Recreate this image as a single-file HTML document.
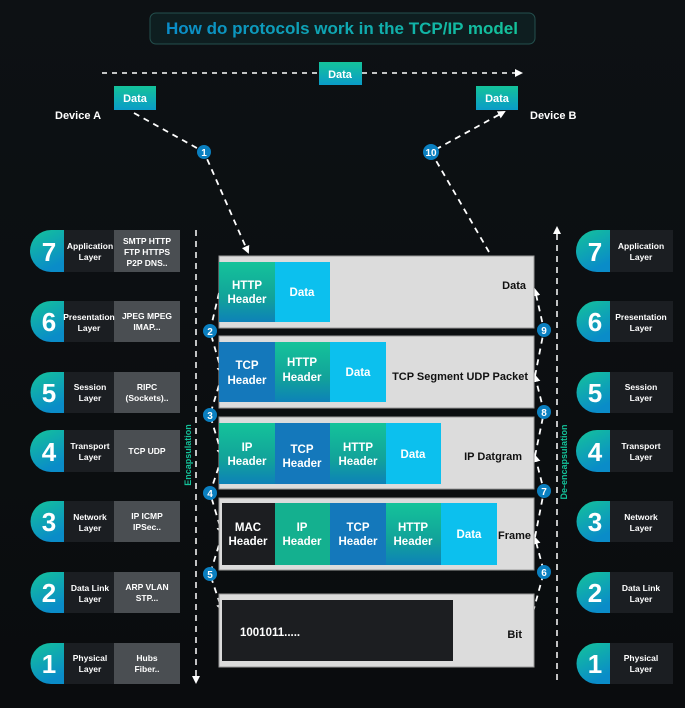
<!DOCTYPE html>
<html><head><meta charset="utf-8"><style>
html,body{margin:0;padding:0;background:#0b0d0f;}
svg{display:block;font-family:"Liberation Sans",sans-serif;font-weight:bold;}
</style></head><body>
<svg width="685" height="708" viewBox="0 0 685 708" xmlns="http://www.w3.org/2000/svg">
<defs>
<linearGradient id="bg" x1="0" y1="0" x2="0" y2="1"><stop offset="0" stop-color="#0d1114"/><stop offset="1" stop-color="#0a0c0e"/></linearGradient>
<linearGradient id="badge" x1="0" y1="0" x2="0.4" y2="1"><stop offset="0" stop-color="#14c39a"/><stop offset="1" stop-color="#0a8cc8"/></linearGradient>
<linearGradient id="grn" x1="0" y1="0" x2="0" y2="1"><stop offset="0" stop-color="#14c39a"/><stop offset="0.6" stop-color="#12a29a"/><stop offset="1" stop-color="#0d82b8"/></linearGradient>
<linearGradient id="dbox" x1="0" y1="0" x2="0" y2="1"><stop offset="0" stop-color="#14c39a"/><stop offset="1" stop-color="#0a9cc8"/></linearGradient>
<linearGradient id="ttl" x1="0" y1="0" x2="1" y2="0"><stop offset="0" stop-color="#0a8cc8"/><stop offset="1" stop-color="#14c39a"/></linearGradient>
<marker id="ar" markerWidth="8" markerHeight="8" refX="6" refY="4" orient="auto" markerUnits="userSpaceOnUse"><path d="M0,0 L8,4 L0,8 z" fill="#fff"/></marker>
</defs>
<rect width="685" height="708" fill="url(#bg)"/>

<rect x="150" y="13" width="385" height="31" rx="6" fill="#0e1e20" stroke="#24504e" stroke-width="1"/>
<text x="342" y="34" text-anchor="middle" font-size="17" fill="url(#ttl)">How do protocols work in the TCP/IP model</text>

<line x1="102" y1="73" x2="521" y2="73" stroke="#fff" stroke-width="1.5" stroke-dasharray="5,5" marker-end="url(#ar)"/>
<rect x="319" y="62" width="43" height="23" fill="url(#dbox)"/>
<text x="340" y="78" text-anchor="middle" font-size="11" fill="#fff">Data</text>
<rect x="114" y="86" width="42" height="24" fill="url(#dbox)"/>
<text x="135" y="102" text-anchor="middle" font-size="11" fill="#fff">Data</text>
<rect x="476" y="86" width="42" height="24" fill="url(#dbox)"/>
<text x="497" y="102" text-anchor="middle" font-size="11" fill="#fff">Data</text>
<text x="55" y="119" font-size="11" fill="#fff">Device A</text>
<text x="530" y="119" font-size="11" fill="#fff">Device B</text>

<g stroke="#fff" stroke-width="1.8" stroke-dasharray="6,5" fill="none">
<path d="M134,113 L204,152 L248,252" marker-end="url(#ar)"/>
<path d="M489,252 L431,152 L504,112" marker-end="url(#ar)"/>
<path d="M219,293 L210,331 L222,373" marker-end="url(#ar)"/>
<path d="M222,375 L210,415 L222,455" marker-end="url(#ar)"/>
<path d="M222,457 L210,493 L222,533" marker-end="url(#ar)"/>
<path d="M222,535 L210,574 L222,610" marker-end="url(#ar)"/>
<path d="M533,612 L544,572 L535,538" marker-end="url(#ar)"/>
<path d="M535,537 L544,491 L535,456" marker-end="url(#ar)"/>
<path d="M535,456 L544,412 L535,376" marker-end="url(#ar)"/>
<path d="M535,376 L544,330 L535,290" marker-end="url(#ar)"/>
</g>
<g stroke="#fff" stroke-width="1.5" stroke-dasharray="6,5" fill="none">
<line x1="196" y1="230" x2="196" y2="682" marker-end="url(#ar)"/>
<line x1="557" y1="680" x2="557" y2="228" marker-end="url(#ar)"/>
</g>
<text transform="translate(191,455) rotate(-90)" text-anchor="middle" font-size="9" fill="#14c39a">Encapsulation</text>
<text transform="translate(567,462) rotate(-90)" text-anchor="middle" font-size="9" fill="#14c39a">De-encapsulation</text>

<g font-size="10" fill="#fff" text-anchor="middle">
<circle cx="204" cy="152" r="7" fill="#0a7fc0"/><text x="204" y="156">1</text>
<circle cx="431" cy="152" r="8" fill="#0a7fc0"/><text x="431" y="156">10</text>
<circle cx="210" cy="331" r="7" fill="#0a7fc0"/><text x="210" y="335">2</text>
<circle cx="210" cy="415" r="7" fill="#0a7fc0"/><text x="210" y="419">3</text>
<circle cx="210" cy="493" r="7" fill="#0a7fc0"/><text x="210" y="497">4</text>
<circle cx="210" cy="574" r="7" fill="#0a7fc0"/><text x="210" y="578">5</text>
<circle cx="544" cy="330" r="7" fill="#0a7fc0"/><text x="544" y="334">9</text>
<circle cx="544" cy="412" r="7" fill="#0a7fc0"/><text x="544" y="416">8</text>
<circle cx="544" cy="491" r="7" fill="#0a7fc0"/><text x="544" y="495">7</text>
<circle cx="544" cy="572" r="7" fill="#0a7fc0"/><text x="544" y="576">6</text>
</g>

<g stroke="#9a9a9a" stroke-width="1">
<rect x="219" y="256" width="315" height="72" fill="#dcdcdc"/>
<rect x="219" y="336" width="315" height="72" fill="#dcdcdc"/>
<rect x="219" y="417" width="315" height="72" fill="#dcdcdc"/>
<rect x="219" y="498" width="315" height="72" fill="#dcdcdc"/>
<rect x="219" y="594" width="315" height="73" fill="#dcdcdc"/>
</g>
<rect x="219" y="262" width="56" height="60" fill="url(#grn)"/>
<rect x="275" y="262" width="55" height="60" fill="#0cc0ee"/>
<rect x="219" y="342" width="56" height="60" fill="#1478bb"/>
<rect x="275" y="342" width="55" height="60" fill="url(#grn)"/>
<rect x="330" y="342" width="56" height="60" fill="#0cc0ee"/>
<rect x="219" y="423" width="56" height="61" fill="url(#grn)"/>
<rect x="275" y="423" width="55" height="61" fill="#1478bb"/>
<rect x="330" y="423" width="56" height="61" fill="url(#grn)"/>
<rect x="386" y="423" width="55" height="61" fill="#0cc0ee"/>
<rect x="222" y="503" width="53" height="62" fill="#1c1e21"/>
<rect x="275" y="503" width="55" height="62" fill="#14b08f"/>
<rect x="330" y="503" width="56" height="62" fill="#1478bb"/>
<rect x="386" y="503" width="55" height="62" fill="url(#grn)"/>
<rect x="441" y="503" width="56" height="62" fill="#0cc0ee"/>
<rect x="222" y="600" width="231" height="61" fill="#1c1e21"/>

<g font-size="11.5" fill="#fff" text-anchor="middle">
<text x="247" y="289">HTTP</text><text x="247" y="303">Header</text>
<text x="302" y="296">Data</text>
<text x="247" y="369">TCP</text><text x="247" y="384">Header</text>
<text x="302" y="366">HTTP</text><text x="302" y="381">Header</text>
<text x="358" y="376">Data</text>
<text x="247" y="451">IP</text><text x="247" y="465">Header</text>
<text x="302" y="453">TCP</text><text x="302" y="467">Header</text>
<text x="358" y="451">HTTP</text><text x="358" y="465">Header</text>
<text x="413" y="458">Data</text>
<text x="248" y="531">MAC</text><text x="248" y="545">Header</text>
<text x="302" y="531">IP</text><text x="302" y="545">Header</text>
<text x="358" y="531">TCP</text><text x="358" y="545">Header</text>
<text x="413" y="531">HTTP</text><text x="413" y="545">Header</text>
<text x="469" y="538">Data</text>
</g>
<text x="240" y="636" font-size="11.5" fill="#fff">1001011.....</text>
<g font-size="11" fill="#111" text-anchor="end">
<text x="526" y="289">Data</text>
<text x="528" y="380">TCP Segment UDP Packet</text>
<text x="522" y="460">IP Datgram</text>
<text x="531" y="539">Frame</text>
<text x="522" y="638">Bit</text>
</g>

<g font-size="8.5" fill="#fff" text-anchor="middle">
<path d="M64,230 H51 A21,21 0 1 0 51,272 H64 Z" fill="url(#badge)"/><rect x="64" y="230" width="50" height="42" fill="#1b1e22"/><rect x="114" y="230" width="66" height="42" fill="#4a4e52"/>
<path d="M64,301 H51 A20.5,20.5 0 1 0 51,342 H64 Z" fill="url(#badge)"/><rect x="64" y="301" width="50" height="41" fill="#1b1e22"/><rect x="114" y="301" width="66" height="41" fill="#4a4e52"/>
<path d="M64,372 H51 A20.5,20.5 0 1 0 51,413 H64 Z" fill="url(#badge)"/><rect x="64" y="372" width="50" height="41" fill="#1b1e22"/><rect x="114" y="372" width="66" height="41" fill="#4a4e52"/>
<path d="M64,430 H51 A21,21 0 1 0 51,472 H64 Z" fill="url(#badge)"/><rect x="64" y="430" width="50" height="42" fill="#1b1e22"/><rect x="114" y="430" width="66" height="42" fill="#4a4e52"/>
<path d="M64,501 H51 A20.5,20.5 0 1 0 51,542 H64 Z" fill="url(#badge)"/><rect x="64" y="501" width="50" height="41" fill="#1b1e22"/><rect x="114" y="501" width="66" height="41" fill="#4a4e52"/>
<path d="M64,572 H51 A20.5,20.5 0 1 0 51,613 H64 Z" fill="url(#badge)"/><rect x="64" y="572" width="50" height="41" fill="#1b1e22"/><rect x="114" y="572" width="66" height="41" fill="#4a4e52"/>
<path d="M64,643 H51 A20.5,20.5 0 1 0 51,684 H64 Z" fill="url(#badge)"/><rect x="64" y="643" width="50" height="41" fill="#1b1e22"/><rect x="114" y="643" width="66" height="41" fill="#4a4e52"/>

<path d="M610,230 H597 A21,21 0 1 0 597,272 H610 Z" fill="url(#badge)"/><rect x="610" y="230" width="63" height="42" fill="#1b1e22"/>
<path d="M610,301 H597 A20.5,20.5 0 1 0 597,342 H610 Z" fill="url(#badge)"/><rect x="610" y="301" width="63" height="41" fill="#1b1e22"/>
<path d="M610,372 H597 A20.5,20.5 0 1 0 597,413 H610 Z" fill="url(#badge)"/><rect x="610" y="372" width="63" height="41" fill="#1b1e22"/>
<path d="M610,430 H597 A21,21 0 1 0 597,472 H610 Z" fill="url(#badge)"/><rect x="610" y="430" width="63" height="42" fill="#1b1e22"/>
<path d="M610,501 H597 A20.5,20.5 0 1 0 597,542 H610 Z" fill="url(#badge)"/><rect x="610" y="501" width="63" height="41" fill="#1b1e22"/>
<path d="M610,572 H597 A20.5,20.5 0 1 0 597,613 H610 Z" fill="url(#badge)"/><rect x="610" y="572" width="63" height="41" fill="#1b1e22"/>
<path d="M610,643 H597 A20.5,20.5 0 1 0 597,684 H610 Z" fill="url(#badge)"/><rect x="610" y="643" width="63" height="41" fill="#1b1e22"/>

<g font-size="26">
<text x="49" y="261">7</text><text x="49" y="331">6</text><text x="49" y="402">5</text><text x="49" y="461">4</text><text x="49" y="531">3</text><text x="49" y="602">2</text><text x="49" y="673">1</text>
<text x="595" y="261">7</text><text x="595" y="331">6</text><text x="595" y="402">5</text><text x="595" y="461">4</text><text x="595" y="531">3</text><text x="595" y="602">2</text><text x="595" y="673">1</text>
</g>
<text x="90" y="249">Application</text><text x="90" y="260">Layer</text>
<text x="89" y="320">Presentation</text><text x="89" y="331">Layer</text>
<text x="90" y="390">Session</text><text x="90" y="401">Layer</text>
<text x="90" y="449">Transport</text><text x="90" y="460">Layer</text>
<text x="90" y="520">Network</text><text x="90" y="531">Layer</text>
<text x="90" y="591">Data Link</text><text x="90" y="602">Layer</text>
<text x="90" y="661">Physical</text><text x="90" y="672">Layer</text>

<text x="147" y="244">SMTP HTTP</text><text x="147" y="255">FTP HTTPS</text><text x="147" y="266">P2P DNS..</text>
<text x="147" y="319">JPEG MPEG</text><text x="147" y="330">IMAP...</text>
<text x="147" y="390">RIPC</text><text x="147" y="401">(Sockets)..</text>
<text x="147" y="454">TCP UDP</text>
<text x="147" y="519">IP ICMP</text><text x="147" y="530">IPSec..</text>
<text x="147" y="590">ARP VLAN</text><text x="147" y="601">STP...</text>
<text x="147" y="661">Hubs</text><text x="147" y="672">Fiber..</text>

<text x="641" y="249">Application</text><text x="641" y="260">Layer</text>
<text x="641" y="320">Presentation</text><text x="641" y="331">Layer</text>
<text x="641" y="390">Session</text><text x="641" y="401">Layer</text>
<text x="641" y="449">Transport</text><text x="641" y="460">Layer</text>
<text x="641" y="520">Network</text><text x="641" y="531">Layer</text>
<text x="641" y="591">Data Link</text><text x="641" y="602">Layer</text>
<text x="641" y="661">Physical</text><text x="641" y="672">Layer</text>
</g>
</svg>
</body></html>
